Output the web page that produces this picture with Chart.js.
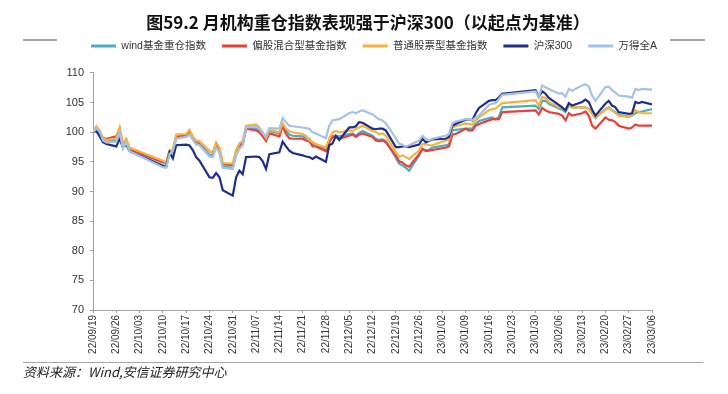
<!DOCTYPE html>
<html>
<head>
<meta charset="utf-8">
<script src="https://cdn.jsdelivr.net/npm/chart.js@4.4.0/dist/chart.umd.min.js"></script>
<style>
  body { margin: 0; background: #fff; }
  #wrap { position: relative; width: 728px; height: 394px; }
  #title { position: absolute; top: 10px; left: 0; width: 736px; text-align: center;
           font: bold 17px "Noto Sans CJK SC", sans-serif; line-height: 24px; color: #111; }
  .rule { position: absolute; background: #a6a6a6; }
  #src { position: absolute; left: 23px; top: 363px; font: italic 13px "Noto Sans CJK SC", sans-serif;
         line-height: 18px; color: #222; }
</style>
</head>
<body>
<div id="wrap">
  <canvas id="chart" width="728" height="394"></canvas>
  <div id="title">图59.2 月机构重仓指数表现强于沪深300（以起点为基准）</div>
  <div class="rule" style="left:23px;top:39px;width:34px;height:2px"></div>
  <div class="rule" style="left:670px;top:39px;width:35px;height:2px"></div>
  <div class="rule" style="left:23px;top:362px;width:680px;height:1px"></div>
  <div id="src">资料来源：Wind,安信证券研究中心</div>
</div>
<script>
// trading days (yy/mm/dd)
const dates = [
  '22/09/19','22/09/20','22/09/21','22/09/22','22/09/23','22/09/26','22/09/27','22/09/28','22/09/29','22/09/30',
  '22/10/10','22/10/11','22/10/12','22/10/13','22/10/14','22/10/17','22/10/18','22/10/19','22/10/20','22/10/21',
  '22/10/24','22/10/25','22/10/26','22/10/27','22/10/28','22/10/31','22/11/01','22/11/02','22/11/03','22/11/04',
  '22/11/07','22/11/08','22/11/09','22/11/10','22/11/11','22/11/14','22/11/15','22/11/16','22/11/17','22/11/18',
  '22/11/21','22/11/22','22/11/23','22/11/24','22/11/25','22/11/28','22/11/29','22/11/30','22/12/01','22/12/02',
  '22/12/05','22/12/06','22/12/07','22/12/08','22/12/09','22/12/12','22/12/13','22/12/14','22/12/15','22/12/16',
  '22/12/19','22/12/20','22/12/21','22/12/22','22/12/23','22/12/26','22/12/27','22/12/28','22/12/29','22/12/30',
  '23/01/03','23/01/04','23/01/05','23/01/06','23/01/09','23/01/10','23/01/11','23/01/12','23/01/13','23/01/16',
  '23/01/17','23/01/18','23/01/19','23/01/20','23/01/30','23/01/31','23/02/01','23/02/02','23/02/03','23/02/06',
  '23/02/07','23/02/08','23/02/09','23/02/10','23/02/13','23/02/14','23/02/15','23/02/16','23/02/17','23/02/20',
  '23/02/21','23/02/22','23/02/23','23/02/24','23/02/27','23/02/28','23/03/01','23/03/02','23/03/03','23/03/06'
];

const tickLabels = [
  '22/09/19','22/09/26','22/10/03','22/10/10','22/10/17','22/10/24','22/10/31','22/11/07','22/11/14',
  '22/11/21','22/11/28','22/12/05','22/12/12','22/12/19','22/12/26','23/01/02','23/01/09','23/01/16',
  '23/01/23','23/01/30','23/02/06','23/02/13','23/02/20','23/02/27','23/03/06'
];

const names = ['wind基金重仓指数', '偏股混合型基金指数', '普通股票型基金指数', '沪深300', '万得全A'];

const windHeavy = [
  100,100.4,100.0,98.7,98.5,98.6,100.2,97.5,98.5,97.0,
  94.4,94.2,96.5,96.6,99.0,99.4,99.8,98.9,98.1,98.0,
  96.2,96.1,97.6,96.8,94.2,94.0,96.2,97.4,97.9,100.6,
  100.6,100.2,99.4,98.9,100.2,99.8,101.4,100.3,99.6,99.4,
  99.3,99.0,98.9,98.0,97.9,97.0,98.6,99.4,99.4,99.3,
  99.7,99.8,99.4,99.9,100.2,99.4,98.9,98.7,98.8,98.5,
  95.7,94.7,94.4,94.0,93.5,96.1,97.2,97.0,97.0,97.4,
  97.8,97.9,100.3,100.4,100.6,100.6,100.6,101.4,101.9,102.4,
  102.5,102.2,102.6,104.2,104.5,103.9,105.3,105.3,104.8,104.0,
  103.8,103.4,104.5,104.2,104.2,104.2,103.9,103.2,102.4,103.9,
  104.2,103.7,103.4,103.0,102.6,102.8,103.2,103.4,103.5,103.9
];
const mixedFund = [
  100,100.6,100.2,99.0,98.9,99.3,100.6,97.8,98.6,97.2,
  94.9,94.8,96.8,96.9,99.3,99.4,100.0,99.0,98.5,98.3,
  96.8,96.5,98.0,97.2,94.6,94.4,96.6,97.8,98.1,100.6,
  100.3,100.0,99.3,98.5,99.8,99.3,101.0,99.7,99.0,98.9,
  98.9,98.6,98.5,97.6,97.6,96.8,98.3,99.2,99.2,98.9,
  99.4,99.6,99.2,99.6,99.8,99.2,98.6,98.5,98.6,98.3,
  96.1,95.1,94.9,94.4,94.2,96.3,97.2,96.8,96.9,97.0,
  97.4,97.6,99.6,99.7,100.6,100.3,100.3,101.1,101.4,102.0,
  102.2,102.2,102.2,103.4,103.7,103.0,104.1,103.7,103.4,103.1,
  102.8,102.0,103.2,102.8,103.2,103.5,102.8,101.1,100.6,102.5,
  102.1,102.0,101.7,101.1,100.6,100.8,101.3,101.1,101.1,101.1
];
const stockFund = [
  100,101.0,100.3,99.0,98.7,98.9,100.8,98.0,98.9,97.4,
  95.2,94.9,97.0,97.0,99.6,99.7,100.4,99.3,98.6,98.5,
  96.8,96.6,98.3,97.4,94.8,94.7,97.0,98.1,98.6,101.1,
  101.3,100.8,100.0,99.0,100.4,100.0,101.5,100.6,100.2,100.0,
  99.7,99.4,98.7,98.3,98.0,97.4,98.9,100.0,100.2,100.0,
  100.3,100.2,100.6,100.8,101.1,100.2,100.0,99.7,99.8,99.4,
  96.6,95.9,96.1,95.8,95.5,96.9,98.0,98.0,97.8,97.8,
  98.6,98.7,100.8,101.0,101.5,101.4,101.3,102.0,102.5,103.7,
  103.9,104.0,104.5,104.9,105.4,104.5,105.9,105.8,105.1,104.2,
  104.1,103.7,104.5,104.2,104.2,104.2,103.9,103.1,102.5,103.8,
  104.1,103.7,103.2,102.8,102.6,102.8,103.7,103.4,103.2,103.2
];
const csi300 = [
  100,100.2,99.3,98.3,98.0,97.6,98.9,97.4,97.9,96.8,
  94.3,94.2,96.6,95.6,97.8,97.9,97.75,97.0,95.8,95.2,
  92.4,92.3,93.1,92.4,90.2,89.3,92.4,93.5,92.9,95.8,
  95.9,95.8,95.1,93.8,96.3,96.6,98.4,97.6,96.9,96.5,
  96.1,95.9,95.8,95.5,95.9,95.0,97.8,98.1,99.4,98.7,
  100.8,100.8,101.0,101.7,101.6,100.6,100.5,100.6,100.6,100.3,
  97.5,97.5,97.6,97.6,97.5,97.9,98.9,98.3,98.5,98.8,
  98.9,99.2,101.1,101.4,102.1,102.2,102.0,103.2,104.1,105.3,
  105.4,105.4,105.9,106.5,107.1,106.0,106.9,106.5,105.8,104.6,
  104.2,103.7,104.9,104.5,105.1,105.5,105.1,103.8,102.8,104.8,
  105.3,104.5,104.2,103.4,103.1,103.2,105.1,104.9,105.1,104.7
];
const windA = [
  100,100.6,100.2,98.6,98.3,98.4,100.0,97.2,98.3,96.8,
  94.1,94.0,96.3,96.8,98.9,99.2,99.6,98.7,97.9,97.8,
  95.9,95.8,97.4,96.5,94.0,93.8,96.1,97.2,97.8,100.8,
  101.0,100.6,99.8,99.3,100.7,100.6,102.4,101.7,101.1,101.0,
  100.8,100.7,100.6,100.0,99.8,99.0,101.1,102.0,102.1,102.2,
  103.2,103.4,103.2,103.5,103.7,103.0,102.6,102.2,102.0,101.5,
  99.0,98.1,97.9,97.6,97.8,98.6,99.4,98.9,98.6,98.9,
  99.4,99.7,101.5,101.8,102.2,102.2,102.0,102.5,102.8,104.6,
  104.8,104.9,105.6,106.3,106.9,105.9,107.9,107.6,107.3,106.5,
  106.6,106.0,107.3,107.0,107.9,108.1,107.7,106.2,105.3,107.6,
  107.7,107.1,106.7,106.2,106.0,105.8,107.3,107.1,107.3,107.2
];

const colors = ['#4bacc6', '#e8413c', '#f6b13f', '#1f2e8a', '#a4c2e6'];

const base = Date.UTC(2022, 8, 19);
function dayOf(s) {
  const [yy, mm, dd] = s.split('/').map(Number);
  return Math.round((Date.UTC(2000 + yy, mm - 1, dd) - base) / 86400000);
}

const series = [windHeavy, mixedFund, stockFund, csi300, windA];

Chart.defaults.font.family = '"Liberation Sans", "Noto Sans CJK SC", sans-serif';
Chart.defaults.color = '#333';

const ctx = document.getElementById('chart').getContext('2d');
const chart = new Chart(ctx, {
  type: 'line',
  data: {
    datasets: series.map((vals, i) => ({
      label: names[i],
      data: vals.map((v, j) => ({ x: dayOf(dates[j]), y: v })),
      borderColor: colors[i],
      backgroundColor: colors[i],
      borderWidth: 2.2,
      pointRadius: 0,
      tension: 0,
      fill: false,
      order: series.length - i,
    })),
  },
  options: {
    responsive: false,
    animation: false,
    layout: { padding: { top: 24.75, left: 20, right: 0, bottom: 0 } },
    plugins: {
      tooltip: { enabled: false },
      legend: {
        labels: {
          boxWidth: 25,
          boxHeight: 3,
          padding: 16,
          color: '#333',
          font: { size: 10.5 },
          sort: (a, b) => a.datasetIndex - b.datasetIndex,
          generateLabels: (c) => Chart.defaults.plugins.legend.labels.generateLabels(c)
            .map(l => ({ ...l, lineWidth: 0 })),
        },
      },
      // spacer between legend and plot
      subtitle: { display: true, text: '', weight: 500, font: { size: 1 }, padding: { top: 10.5, bottom: 0 } },
    },
    scales: {
      x: {
        type: 'linear',
        min: 0,
        max: dayOf(tickLabels[tickLabels.length - 1]),
        afterFit: (s) => { s.height = 84; },
        afterBuildTicks: (s) => { s.ticks = tickLabels.map(t => ({ value: dayOf(t) })); },
        ticks: {
          autoSkip: false,
          maxRotation: 90,
          minRotation: 90,
          padding: 2,
          font: { size: 10 },
          color: '#333',
          callback: (v, i) => tickLabels[i],
        },
        grid: { drawOnChartArea: false, tickLength: 3, color: '#a0a0a0' },
        border: { color: '#a0a0a0', width: 1 },
      },
      y: {
        min: 70,
        max: 110,
        afterFit: (s) => { s.width = 73; },
        ticks: { stepSize: 5, padding: 6, font: { size: 11 }, color: '#333' },
        grid: { drawOnChartArea: false, tickLength: 3, color: '#a0a0a0' },
        border: { color: '#a0a0a0', width: 1 },
      },
      // empty right margin
      y2: {
        type: 'linear',
        position: 'right',
        afterFit: (s) => { s.width = 76; },
        ticks: { display: false },
        grid: { display: false },
        border: { display: false },
      },
    },
  },
});
</script>
</body>
</html>
